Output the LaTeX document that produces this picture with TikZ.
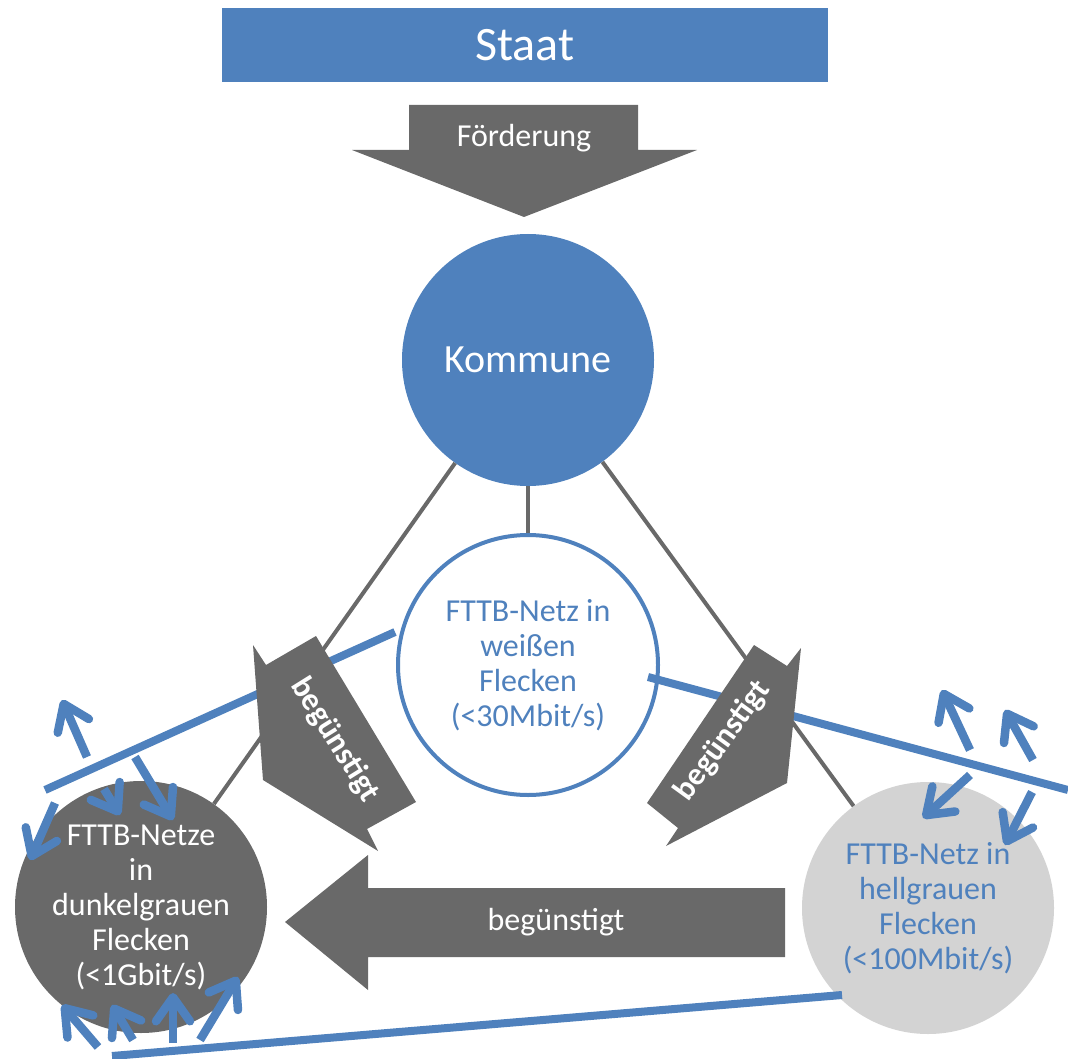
\documentclass[tikz,border=0pt]{standalone}
\usepackage{fontspec}
\setmainfont{Carlito}
\usetikzlibrary{arrows.meta}
\definecolor{ablau}{HTML}{4F81BD}
\definecolor{agrau}{HTML}{696969}
\definecolor{hgrau}{HTML}{D3D3D3}
\tikzset{
  kreis/.style={circle, minimum size=252pt, inner sep=0pt, align=center, font=\fontsize{32}{35}\selectfont},
  verbindung/.style={draw=agrau, line width=4pt},
  blaulinie/.style={draw=ablau, line width=8pt},
  pfeilchen/.style={draw=ablau, line width=8.5pt, -{Straight Barb[length=24pt,width=34pt,round]}},
  schrift/.style={text=white, font=\fontsize{32}{35}\selectfont},
  schraeg/.style={text=white, font=\bfseries\fontsize{32}{34}\selectfont},
}
\begin{document}
\begin{tikzpicture}[x=1pt,y=-1pt]
\useasboundingbox (0,0) rectangle (1068,1059);
\node[fill=ablau, minimum width=606pt, minimum height=74pt, inner sep=0pt, text=white, font=\fontsize{48}{52}\selectfont] (staat) at (525,45) {Staat}; % Staat
\fill[agrau] (409,105) -- (638,105) -- (638,150) -- (697,150) -- (524,217) -- (352,150) -- (409,150) -- cycle; % Foerderung arrow
\node[schrift] (foerderung) at (524,138) {Förderung};
\node[kreis, fill=ablau, text=white, font=\fontsize{40}{44}\selectfont] (kommune) at (528,360) {Kommune};
\node[kreis, minimum size=260pt, draw=ablau, line width=4pt, fill=white, text=ablau] (weiss) at (528,665) {FTTB-Netz in\\weißen\\Flecken\\(<30Mbit/s)};
\node[kreis, fill=agrau, text=white] (dunkel) at (141,907) {FTTB-Netze\\in\\dunkelgrauen\\Flecken\\(<1Gbit/s)};
\node[kreis, fill=hgrau, text=ablau] (hell) at (928,908) {FTTB-Netz in\\hellgrauen\\Flecken\\(<100Mbit/s)};
\draw[verbindung] (kommune) -- (dunkel);
\draw[verbindung] (kommune) -- (weiss);
\draw[verbindung] (kommune) -- (hell);
\coordinate (bl1) at (45,790); \coordinate (bl2) at (395,632); % left blue line
\coordinate (br1) at (648,677); \coordinate (br2) at (1068,790); % right blue line
\coordinate (bu1) at (112,1056); \coordinate (bu2) at (842,995); % bottom blue line
\draw[blaulinie] (bl1) -- (bl2);
\draw[blaulinie] (br1) -- (br2);
\draw[blaulinie] (bu1) -- (bu2);
\fill[agrau] (253,645) -- (266,665) -- (316,636) -- (416,802) -- (367,829) -- (378,851) -- (263,780) -- cycle; % Left arrow
\node[schraeg, rotate=-58] (links) at (335,740) {begünstigt};
\fill[agrau] (754,645) -- (787,666) -- (801,648) -- (787,783) -- (666,846) -- (678,828) -- (647,803) -- cycle; % Right arrow
\node[schraeg, rotate=54] (rechts) at (723,741) {begünstigt};
\fill[agrau] (785,888) -- (368,888) -- (368,855) -- (285,922) -- (368,990) -- (368,957) -- (785,957) -- cycle; % Bottom arrow
\node[schrift] (unten) at (556,922) {begünstigt};
\foreach \sx/\sy/\tx/\ty [count=\i] in {87/757/62/700, 104/789/120/815, 135/757/173/820, 55/803/30/860,
    98/1047/62/1005, 133/1040/112/1005, 173/1043/173/993, 200/1040/238/977,
    970/750/942/690, 1033/760/1005/710, 970/775/923/818, 1032/792/1005/845} {
  \coordinate (s\i) at (\sx,\sy);
  \coordinate (t\i) at (\tx,\ty);
  \draw[pfeilchen] (s\i) -- (t\i);
}
\end{tikzpicture}
\end{document}
